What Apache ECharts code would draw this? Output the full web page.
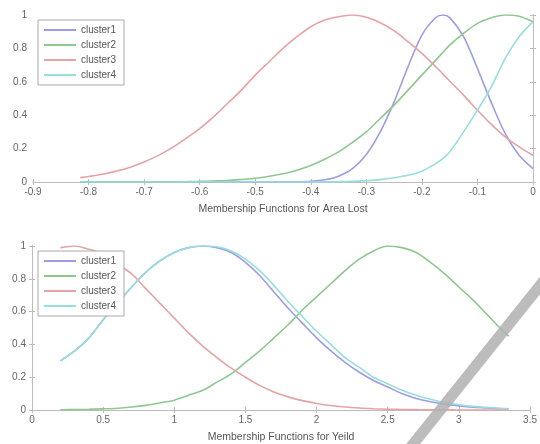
<!DOCTYPE html>
<html><head><meta charset="utf-8">
<script src="https://cdn.jsdelivr.net/npm/echarts@6/dist/echarts.min.js"></script>
<style>html,body{margin:0;padding:0;background:#fff}#c{width:540px;height:444px;filter:blur(0.4px)}</style>
</head><body><div id="c"></div>
<script>
const names = ['cluster1','cluster2','cluster3','cluster4'];
const colors = ['#9d9de3','#8fc78f','#e6a3a3','#98dede'];
const topTitle = 'Membership Functions for Area Lost';
const botTitle = 'Membership Functions for Yeild';
const topXTicks = [-0.9,-0.8,-0.7,-0.6,-0.5,-0.4,-0.3,-0.2,-0.1,0];
const botXTicks = [0,0.5,1,1.5,2,2.5,3,3.5];
const yTicks = [0,0.2,0.4,0.6,0.8,1];

// Area Lost
const topX = [-0.815,-0.8,-0.775,-0.75,-0.725,-0.7,-0.675,-0.65,-0.625,-0.6,-0.575,-0.55,-0.525,-0.5,-0.475,-0.45,-0.425,-0.4,-0.375,-0.35,-0.325,-0.3,-0.275,-0.25,-0.225,-0.2,-0.175,-0.1625,-0.15,-0.125,-0.1,-0.075,-0.05,-0.025,0];
const topC1 = [0,0,0,0,0,0,0,0,0,0,0,0,0,0,0,0.0004,0.0014,0.0045,0.013,0.035,0.08,0.165,0.30,0.48,0.69,0.88,0.985,1.0,0.984,0.87,0.68,0.475,0.29,0.16,0.08];
const topC2 = [0,0,0,0,0,0,0,0.0012,0.002,0.0035,0.006,0.009,0.015,0.022,0.034,0.049,0.071,0.099,0.136,0.18,0.237,0.30,0.38,0.46,0.55,0.64,0.73,0.775,0.82,0.89,0.95,0.984,1.0,0.993,0.96];
const topC3 = [0.026,0.033,0.046,0.065,0.089,0.12,0.158,0.204,0.26,0.32,0.39,0.47,0.55,0.64,0.72,0.80,0.87,0.93,0.97,0.99,1.0,0.986,0.954,0.906,0.84,0.77,0.69,0.648,0.605,0.52,0.43,0.345,0.27,0.21,0.16];
const topC4 = [0,0,0,0,0,0,0,0,0,0,0,0,0,0,0,0,0,0,0.001,0.002,0.004,0.008,0.014,0.025,0.04,0.065,0.11,0.14,0.18,0.30,0.43,0.57,0.74,0.87,0.96];

// Yield
const botX = [0.2,0.3,0.4,0.5,0.6,0.7,0.8,0.9,1.0,1.1,1.2,1.3,1.4,1.5,1.6,1.7,1.8,1.9,2.0,2.1,2.2,2.3,2.4,2.5,2.6,2.7,2.8,2.9,3.0,3.1,3.2,3.3,3.35];
const botC1 = [0.30,0.36,0.44,0.55,0.65,0.75,0.84,0.91,0.96,0.99,1.0,0.99,0.96,0.90,0.82,0.72,0.62,0.53,0.44,0.36,0.29,0.23,0.18,0.14,0.10,0.07,0.05,0.035,0.025,0.017,0.012,0.008,0.006];
const botC2 = [0.0015,0.0025,0.004,0.007,0.011,0.018,0.028,0.043,0.06,0.09,0.12,0.17,0.22,0.29,0.36,0.44,0.52,0.61,0.69,0.77,0.85,0.92,0.97,1.0,0.99,0.96,0.90,0.83,0.75,0.67,0.58,0.49,0.45];
const botC3 = [0.99,1.0,0.98,0.95,0.89,0.83,0.74,0.65,0.56,0.47,0.39,0.32,0.255,0.20,0.15,0.11,0.08,0.057,0.04,0.027,0.018,0.012,0.008,0.005,0.003,0.002,0.001,0.001,0,0,0,0,0];
const botC4 = [0.30,0.36,0.44,0.55,0.65,0.75,0.84,0.91,0.96,0.99,1.0,0.995,0.97,0.92,0.85,0.76,0.66,0.57,0.48,0.40,0.32,0.26,0.20,0.16,0.12,0.09,0.065,0.045,0.032,0.022,0.015,0.01,0.008];

const topSeries = [topC1,topC2,topC3,topC4];
const botSeries = [botC1,botC2,botC3,botC4];
const FONT = 'Liberation Sans, Arial, sans-serif';
const tickColor = '#666';
const frameColor = '#bcbcbc';

function xAx(gi, min, max, interval, title, gap){
  return [{
    type:'value', gridIndex:gi, min, max, interval, position:'bottom',
    axisLine:{show:true,lineStyle:{color:frameColor}},
    axisTick:{show:true,inside:true,length:3,lineStyle:{color:frameColor}},
    axisLabel:{color:tickColor,fontSize:10,fontFamily:FONT,margin:5,
      formatter:v=>String(Math.round(v*10)/10)},
    splitLine:{show:false},
    name:title,nameLocation:'middle',nameGap:gap,
    nameTextStyle:{color:'#555',fontSize:10.5,fontFamily:FONT}
  },{
    type:'value', gridIndex:gi, min, max, interval, position:'top',
    axisLine:{show:true,lineStyle:{color:frameColor}},
    axisTick:{show:true,inside:true,length:3,lineStyle:{color:frameColor}},
    axisLabel:{show:false},splitLine:{show:false}
  }];
}
function yAx(gi){
  return [{
    type:'value', gridIndex:gi, min:0, max:1, interval:0.2, position:'left',
    axisLine:{show:true,lineStyle:{color:frameColor}},
    axisTick:{show:true,inside:true,length:3,lineStyle:{color:frameColor}},
    axisLabel:{color:tickColor,fontSize:10,fontFamily:FONT,margin:6,
      formatter:v=>String(Math.round(v*10)/10)},
    splitLine:{show:false}
  },{
    type:'value', gridIndex:gi, min:0, max:1, interval:0.2, position:'right',
    axisLine:{show:true,lineStyle:{color:frameColor}},
    axisTick:{show:true,inside:true,length:3,lineStyle:{color:frameColor}},
    axisLabel:{show:false},splitLine:{show:false}
  }];
}

const series = [];
names.forEach((n,i)=>{
  series.push({name:n,type:'line',xAxisIndex:0,yAxisIndex:0,smooth:0.3,symbol:'none',
    lineStyle:{color:colors[i],width:1.6},itemStyle:{color:colors[i]},
    data:topX.map((x,k)=>[x,topSeries[i][k]])});
});
names.forEach((n,i)=>{
  series.push({name:n,type:'line',xAxisIndex:2,yAxisIndex:2,smooth:0.3,symbol:'none',
    lineStyle:{color:colors[i],width:1.6},itemStyle:{color:colors[i]},
    data:botX.map((x,k)=>[x,botSeries[i][k]])});
});

const legendBase = {
  orient:'vertical', data:names, icon:'rect', itemWidth:32, itemHeight:2, itemGap:5,
  backgroundColor:'#fff', borderColor:'#aaa', borderWidth:1, padding:[5,8,5,6],
  textStyle:{color:'#555',fontSize:10,fontFamily:FONT,padding:[0,0,0,0]}, selectedMode:false
};

const chart = echarts.init(document.getElementById('c'),null,{renderer:'canvas'});
chart.setOption({
  animation:false,
  grid:[
    {left:33,right:7,top:15,height:167,containLabel:false},
    {left:32,right:7,top:246,height:165,containLabel:false}
  ],
  xAxis:[...xAx(0,-0.9,0,0.1,topTitle,22), ...xAx(1,0,3.5,0.5,botTitle,22)],
  yAxis:[...yAx(0), ...yAx(1)],
  legend:[
    Object.assign({left:38,top:20},legendBase),
    Object.assign({left:38,top:251},legendBase)
  ],
  series,
  graphic:[{type:'line',z:100,shape:{x1:410,y1:448,x2:546,y2:278},
    style:{stroke:'#b0b0b0',lineWidth:11,opacity:0.85}}]
});
</script></body></html>
